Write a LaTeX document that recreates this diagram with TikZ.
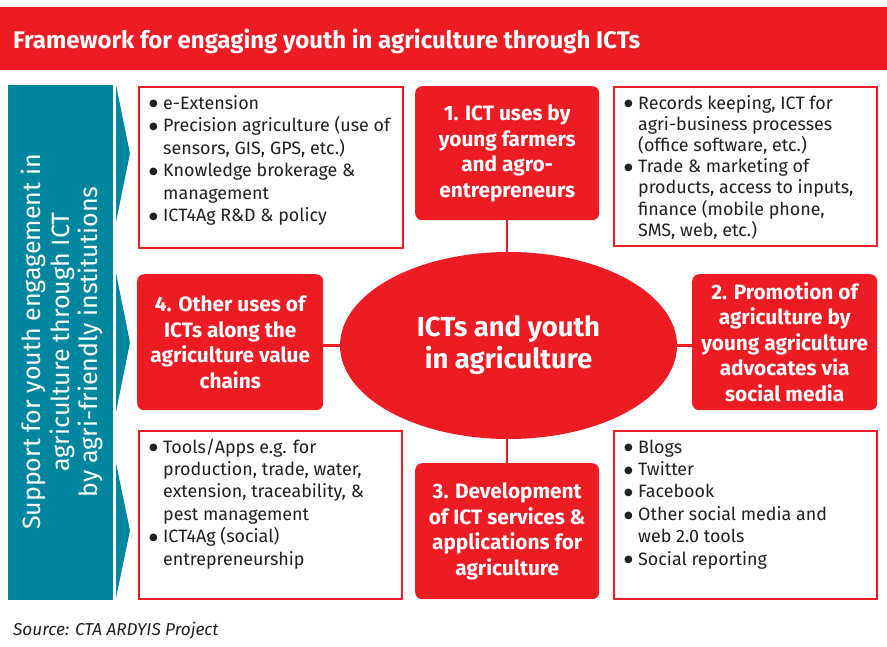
\documentclass[tikz,border=0pt]{standalone}
\usepackage{fontspec}
\setmainfont{Fira Sans}
\newfontfamily\dotfont{DejaVu Sans}
\usetikzlibrary{shapes.geometric}
\definecolor{ctared}{HTML}{ED1C24}
\definecolor{ctateal}{HTML}{00879F}
\definecolor{ink}{HTML}{231F20}

% one bullet point with a hanging indent
\newcommand{\bul}[1]{\par\hangindent=14pt\hangafter=1\noindent
  \makebox[14pt][l]{\raisebox{2.2pt}{\dotfont\fontsize{10}{10}\selectfont ●}}#1}
% a bullet list set in a top-aligned paragraph box
\newcommand{\blist}[3]{\parbox[t]{300pt}{\fontsize{#1}{#2}\selectfont\parfillskip=0pt plus 1fil #3}}

\begin{document}
\begin{tikzpicture}[x=1pt,y=-1pt,
  outbox/.style={draw=ctared, line width=2pt, fill=white, inner sep=0pt, anchor=north west},
  catbox/.style={fill=ctared, rounded corners=7pt, text=white, inner sep=0pt, anchor=north west,
                 align=center, font=\fontsize{20.8}{25.5}\selectfont\bfseries},
  listtext/.style={anchor=base west, inner sep=0pt, text=ink},
  link/.style={draw=ctared, line width=2.5pt}]
\useasboundingbox (0,0) rectangle (887,646);

% title bar
\fill[ctared] (0,7) rectangle (887,70);
\node[anchor=base west, inner sep=0pt, text=white, font=\fontsize{24}{28}\selectfont\bfseries]
  (title) at (13,48) {Framework for engaging youth in agriculture through ICTs};

% vertical band on the left
\fill[ctateal] (8,85) rectangle (113,600);
\node[rotate=90, align=center, text=white, inner sep=0pt, font=\fontsize{25}{28.5}\selectfont]
  (band) at (62,342) {Support for youth engagement in\\agriculture through ICT\\by agri-friendly institutions};

% chevrons pointing to the content
\fill[ctateal] (116,85) -- (130,153.5) -- (116,222) -- cycle;
\fill[ctateal] (116,273) -- (130,342.5) -- (116,412) -- cycle;
\fill[ctateal] (116,463) -- (130,530.5) -- (116,598) -- cycle;

% central ellipse and the four themes
\node[ellipse, fill=ctared, minimum width=337pt, minimum height=187pt, inner sep=0pt,
      align=center, text=white, font=\fontsize{27.5}{32}\selectfont\bfseries]
  (hub) at (508.5,345.5) {ICTs and youth\\in agriculture};

\node[catbox, minimum width=184pt, minimum height=134pt] (b1) at (415,86)
  {1. ICT uses by\\young farmers\\and agro-\\entrepreneurs};
\node[catbox, minimum width=185pt, minimum height=136pt] (b2) at (692,274)
  {2. Promotion of\\agriculture by\\young agriculture\\advocates via\\social media};
\node[catbox, minimum width=184pt, minimum height=136pt] (b3) at (415,463)
  {3. Development\\of ICT services \&\\applications for\\agriculture};
\node[catbox, minimum width=186pt, minimum height=136pt] (b4) at (137,274)
  {4. Other uses of\\ICTs along the\\agriculture value\\chains};

% connectors
\path[link] (b1.south) -- (b1.south |- hub.north);
\path[link] (b3.north) -- (b3.north |- hub.south);
\path[link] (hub.west) -- (hub.west -| b4.east);
\path[link] (hub.east) -- (hub.east -| b2.west);

% outlined boxes with bullet lists
\node[outbox, minimum width=264pt, minimum height=161pt] (tl) at (138,86) {};
\node[outbox, minimum width=263pt, minimum height=159pt] (tr) at (613,86) {};
\node[outbox, minimum width=263pt, minimum height=168pt] (bl) at (138,430) {};
\node[outbox, minimum width=263pt, minimum height=168pt] (br) at (613,430) {};

\node[listtext] (tltext) at (149,109) {\blist{17.9}{22.5}{%
  \bul{e-Extension}
  \bul{Precision agriculture (use of\\sensors, GIS, GPS, etc.)}
  \bul{Knowledge brokerage \&\\management}
  \bul{ICT4Ag R\&D \& policy}}};
\node[listtext] (trtext) at (624,109) {\blist{17.9}{21.2}{%
  \bul{Records keeping, ICT for\\agri-business processes\\(office software, etc.)}
  \bul{Trade \& marketing of\\products, access to inputs,\\finance (mobile phone,\\SMS, web, etc.)}}};
\node[listtext] (bltext) at (149,453) {\blist{17.9}{22.4}{%
  \bul{Tools/Apps e.g. for\\production, trade, water,\\extension, traceability, \&\\pest management}
  \bul{ICT4Ag (social)\\entrepreneurship}}};
\node[listtext] (brtext) at (624,453) {\blist{17.9}{22.4}{%
  \bul{Blogs}
  \bul{Twitter}
  \bul{Facebook}
  \bul{Other social media and\\web 2.0 tools}
  \bul{Social reporting}}};

% source line
\node[anchor=base west, inner sep=0pt, text=ink, font=\fontsize{17.2}{20}\selectfont\itshape]
  (source) at (13,635) {Source: CTA ARDYIS Project};
\end{tikzpicture}
\end{document}
